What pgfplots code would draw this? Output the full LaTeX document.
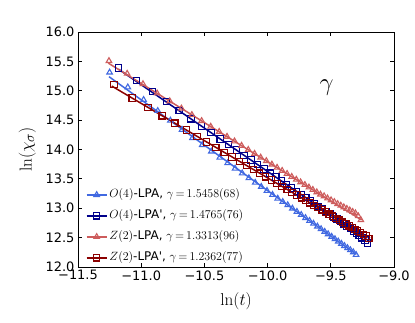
\documentclass[border=0pt]{standalone}
\usepackage[no-math]{fontspec}
\setmainfont{DejaVu Sans}
\usepackage{pgfplots}
\pgfplotsset{compat=1.18}

\definecolor{cA}{RGB}{65,105,225}   % O(4)-LPA
\definecolor{cB}{RGB}{0,0,139}      % O(4)-LPA'
\definecolor{cC}{RGB}{205,92,92}    % Z(2)-LPA
\definecolor{cD}{RGB}{139,0,0}      % Z(2)-LPA'

\pgfplotsset{
  lgd/.style={legend image code/.code={%
    \draw[sharp plot,mark repeat=2,mark phase=2,line width=1.5bp]
      plot coordinates {(0bp,0bp) (10bp,0bp) (20bp,0bp)};}},
  pts/.style={only marks, mark=#1, mark size=3.2bp,
    mark options={line width=1.1bp, solid}, lgd},
  fit/.style={no marks, line width=1.5bp, forget plot},
}

\begin{document}
\begin{tikzpicture}
\begin{axis}[
  name=ax,
  scale only axis,
  width=316bp, height=235bp,
  xmin=-11.5, xmax=-9.0, ymin=12, ymax=16,
  xtick={-11.5,-11,-10.5,-10,-9.5,-9},
  xticklabels={−11.5,−11.0,−10.5,−10.0,−9.5,−9.0},
  ytick={12,12.5,13,13.5,14,14.5,15,15.5,16},
  yticklabels={12.0,12.5,13.0,13.5,14.0,14.5,15.0,15.5,16.0},
  tick pos=both, tick align=inside,
  major tick length=4bp,
  every tick/.style={black, line width=0.8bp},
  axis line style={line width=0.9bp},
  tick label style={font=\fontsize{13}{15}\selectfont},
  xlabel={$\ln(t)$}, ylabel={$\ln(\chi_\sigma)$},
  xlabel style={font=\fontsize{19}{21}\selectfont},
  ylabel style={font=\fontsize{19}{21}\selectfont},
  xlabel shift=5bp, ylabel shift=3bp,
  legend cell align=left,
  legend style={draw=none, fill=none, at={(rel axis cs:0.015,0.0)},
    anchor=south west, yshift=-1bp, font=\fontsize{12}{14}\selectfont,
    row sep=5bp, nodes={text height=9bp, text depth=3bp}},
]
% O(4)-LPA
\addplot[cA, pts=triangle] coordinates {
(-11.250,15.312) (-11.106,15.060) (-10.981,14.846) (-10.869,14.658)
(-10.769,14.494) (-10.677,14.337) (-10.594,14.198) (-10.517,14.079)
(-10.445,13.968) (-10.378,13.864) (-10.316,13.769) (-10.257,13.677)
(-10.201,13.596) (-10.148,13.514) (-10.098,13.437) (-10.050,13.367)
(-10.005,13.298) (-9.961,13.230) (-9.920,13.166) (-9.880,13.110)
(-9.841,13.054) (-9.804,12.997) (-9.768,12.941) (-9.734,12.889)
(-9.700,12.836) (-9.668,12.787) (-9.637,12.739) (-9.606,12.691)
(-9.577,12.646) (-9.548,12.601) (-9.521,12.560) (-9.493,12.516)
(-9.467,12.476) (-9.441,12.436) (-9.416,12.397) (-9.392,12.360)
(-9.368,12.323) (-9.345,12.288) (-9.322,12.252) (-9.300,12.208)
};
\addlegendentry{$O(4)$-LPA, $\gamma{\,=\,}1.5458(68)$}
\addplot[cA, fit] coordinates {(-11.255,15.240) (-9.300,12.218)};
% O(4)-LPA'
\addplot[cB, pts=square] coordinates {
(-11.180,15.388) (-11.036,15.176) (-10.911,14.986) (-10.799,14.816)
(-10.699,14.668) (-10.607,14.522) (-10.524,14.400) (-10.447,14.286)
(-10.375,14.180) (-10.308,14.081) (-10.246,13.989) (-10.187,13.902)
(-10.131,13.819) (-10.078,13.741) (-10.028,13.667) (-9.980,13.596)
(-9.935,13.530) (-9.891,13.465) (-9.850,13.405) (-9.810,13.345)
(-9.771,13.288) (-9.734,13.233) (-9.698,13.180) (-9.664,13.130)
(-9.630,13.080) (-9.598,13.032) (-9.567,12.987) (-9.536,12.941)
(-9.507,12.898) (-9.478,12.855) (-9.451,12.815) (-9.423,12.774)
(-9.397,12.736) (-9.371,12.697) (-9.346,12.660) (-9.322,12.615)
(-9.298,12.575) (-9.275,12.536) (-9.252,12.497) (-9.230,12.459)
(-9.208,12.407)
};
\addlegendentry{$O(4)$-LPA\textquotesingle, $\gamma{\,=\,}1.4765(76)$}
\addplot[cB, fit] coordinates {(-11.180,15.368) (-9.190,12.430)};
% Z(2)-LPA
\addplot[cC, pts=triangle] coordinates {
(-11.255,15.508) (-11.111,15.292) (-10.986,15.115) (-10.874,14.956)
(-10.774,14.823) (-10.682,14.700) (-10.599,14.590) (-10.522,14.487)
(-10.450,14.391) (-10.383,14.302) (-10.321,14.219) (-10.262,14.141)
(-10.206,14.066) (-10.153,13.996) (-10.103,13.929) (-10.055,13.865)
(-10.010,13.805) (-9.966,13.746) (-9.925,13.692) (-9.885,13.639)
(-9.846,13.587) (-9.809,13.537) (-9.773,13.489) (-9.739,13.444)
(-9.705,13.399) (-9.673,13.356) (-9.642,13.315) (-9.611,13.274)
(-9.582,13.235) (-9.553,13.206) (-9.526,13.170) (-9.498,13.138)
(-9.472,13.108) (-9.446,13.074) (-9.421,13.046) (-9.397,13.019)
(-9.373,12.992) (-9.350,12.966) (-9.327,12.940) (-9.305,12.916)
(-9.283,12.867) (-9.262,12.799)
};
\addlegendentry{$Z(2)$-LPA, $\gamma{\,=\,}1.3313(96)$}
\addplot[cC, fit] coordinates {(-11.260,15.470) (-9.256,12.800)};
% Z(2)-LPA'
\addplot[cD, pts=square] coordinates {
(-11.215,15.107) (-11.071,14.875) (-10.946,14.716) (-10.834,14.574)
(-10.734,14.447) (-10.642,14.331) (-10.559,14.225) (-10.482,14.128)
(-10.410,14.036) (-10.343,13.952) (-10.281,13.873) (-10.222,13.798)
(-10.166,13.727) (-10.113,13.660) (-10.063,13.596) (-10.015,13.536)
(-9.970,13.479) (-9.926,13.423) (-9.885,13.371) (-9.845,13.320)
(-9.806,13.271) (-9.769,13.224) (-9.733,13.178) (-9.699,13.135)
(-9.665,13.092) (-9.633,13.051) (-9.602,13.012) (-9.571,12.973)
(-9.542,12.936) (-9.513,12.899) (-9.486,12.865) (-9.458,12.829)
(-9.432,12.796) (-9.406,12.763) (-9.381,12.732) (-9.357,12.701)
(-9.333,12.671) (-9.310,12.642) (-9.287,12.613) (-9.265,12.585)
(-9.243,12.557) (-9.221,12.529) (-9.199,12.485)
};
\addlegendentry{$Z(2)$-LPA\textquotesingle, $\gamma{\,=\,}1.2362(77)$}
\addplot[cD, fit] coordinates {(-11.233,15.080) (-9.190,12.490)};

\node[font=\fontsize{28}{30}\selectfont] at (axis cs:-9.533,15.06) {$\gamma$};
\end{axis}
\pgfresetboundingbox
\path (ax.south west) ++(-78bp,-56bp) coordinate (bl);
\path (ax.north east) ++(21bp,32bp) coordinate (tr);
\useasboundingbox (bl) rectangle (tr);
\end{tikzpicture}
\end{document}
